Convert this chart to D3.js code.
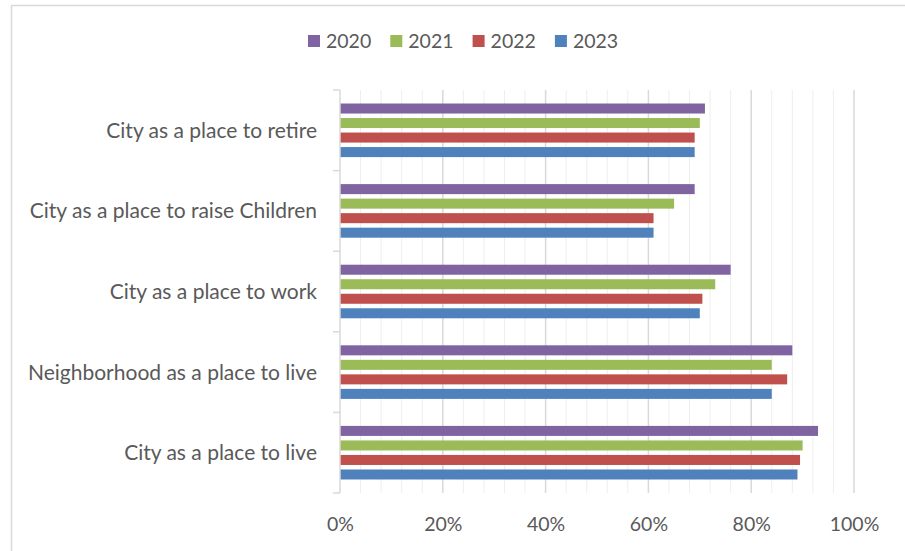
<!DOCTYPE html>
<html>
<head>
<meta charset="utf-8">
<script src="https://cdn.jsdelivr.net/npm/d3@7/dist/d3.min.js"></script>
<style>
  html, body { margin: 0; padding: 0; background: #ffffff; }
  svg { display: block; }
  text { font-family: Lato, "Open Sans", "DejaVu Sans", sans-serif; fill: #595959; }
</style>
</head>
<body>
<svg id="chart" width="905" height="551"></svg>
<script>
// Survey categories, top to bottom
const categories = [
  "City as a place to retire",
  "City as a place to raise Children",
  "City as a place to work",
  "Neighborhood as a place to live",
  "City as a place to live"
];
const years = ["2020", "2021", "2022", "2023"];
// Share of positive ratings (%) per year, in category order
const values2020 = [71, 69, 76, 88, 93];
const values2021 = [70, 65, 73, 84, 90];
const values2022 = [69, 61, 70.5, 87, 89.5];
const values2023 = [69, 61, 70, 84, 89];
const seriesColors = ["#8064A2", "#9BBB59", "#C0504D", "#4F81BD"];
const majorTicks = [0, 20, 40, 60, 80, 100];

const seriesValues = [values2020, values2021, values2022, values2023];
const rows = [];
categories.forEach((c, i) => {
  years.forEach((y, j) => rows.push({ category: c, year: y, value: seriesValues[j][i] }));
});

const svg = d3.select("#chart");
const W = 905, H = 551;
const plot = { left: 340, right: 854, top: 90, bottom: 493 };

// outer chart frame (runs off the right and bottom edges)
svg.append("rect")
  .attr("x", 11.5).attr("y", 5.5)
  .attr("width", W + 20).attr("height", H + 20)
  .attr("fill", "#ffffff")
  .attr("stroke", "#d9d9d9").attr("stroke-width", 1.5);

const x = d3.scaleLinear().domain([0, 100]).range([plot.left, plot.right]);
const y = d3.scaleBand().domain(categories).range([plot.top, plot.bottom]).padding(0);
const yInner = d3.scaleBand().domain(years).range([0, y.bandwidth()])
  .paddingInner(0.31).paddingOuter(0.93);
const color = d3.scaleOrdinal().domain(years).range(seriesColors);

// minor gridlines every 4%, major every 20%
const minorTicks = d3.range(4, 100, 4).filter(v => v % 20 !== 0);
svg.append("g").selectAll("line").data(minorTicks).join("line")
  .attr("x1", d => x(d)).attr("x2", d => x(d))
  .attr("y1", plot.top).attr("y2", plot.bottom)
  .attr("stroke", "#eeeeee").attr("stroke-width", 1);
svg.append("g").selectAll("line").data(majorTicks.filter(v => v > 0)).join("line")
  .attr("x1", d => x(d)).attr("x2", d => x(d))
  .attr("y1", plot.top).attr("y2", plot.bottom)
  .attr("stroke", "#d9d9d9").attr("stroke-width", 1.5);

// bars
svg.append("g").selectAll("rect").data(rows).join("rect")
  .attr("x", x(0))
  .attr("y", d => y(d.category) + yInner(d.year))
  .attr("width", d => x(d.value) - x(0))
  .attr("height", yInner.bandwidth())
  .attr("fill", d => color(d.year));

// vertical category axis line and boundary ticks
svg.append("line")
  .attr("x1", plot.left).attr("x2", plot.left)
  .attr("y1", plot.top).attr("y2", plot.bottom)
  .attr("stroke", "#d9d9d9").attr("stroke-width", 1.5);
const boundaries = categories.map(c => y(c)).concat([plot.bottom]);
svg.append("g").selectAll("line").data(boundaries).join("line")
  .attr("x1", plot.left - 7).attr("x2", plot.left)
  .attr("y1", d => d).attr("y2", d => d)
  .attr("stroke", "#d9d9d9").attr("stroke-width", 1.5);

// category labels
const yAxis = svg.append("g")
  .attr("transform", `translate(${plot.left},0)`)
  .call(d3.axisLeft(y).tickSize(0).tickPadding(23));
yAxis.select(".domain").remove();
yAxis.selectAll("text")
  .attr("font-size", 21)
  .attr("dy", "0.36em")
  .style("font-family", "Lato, 'Open Sans', sans-serif")
  .attr("fill", "#595959");

// percentage labels
const xAxis = svg.append("g")
  .attr("transform", `translate(0,${plot.bottom})`)
  .call(d3.axisBottom(x).tickValues(majorTicks).tickSize(0).tickPadding(24)
    .tickFormat(d => d + "%"));
xAxis.select(".domain").remove();
xAxis.selectAll("text")
  .attr("font-size", 19.5)
  .style("font-family", "Lato, 'Open Sans', sans-serif")
  .attr("fill", "#595959");

// legend
const legend = svg.append("g").attr("transform", "translate(308,35)");
const item = legend.selectAll("g").data(years).join("g")
  .attr("transform", (d, i) => `translate(${i * 82.3},0)`);
item.append("rect")
  .attr("width", 12).attr("height", 12)
  .attr("fill", d => color(d));
item.append("text")
  .attr("x", 18).attr("y", 13)
  .attr("font-size", 19.5)
  .text(d => d);
</script>
</body>
</html>
